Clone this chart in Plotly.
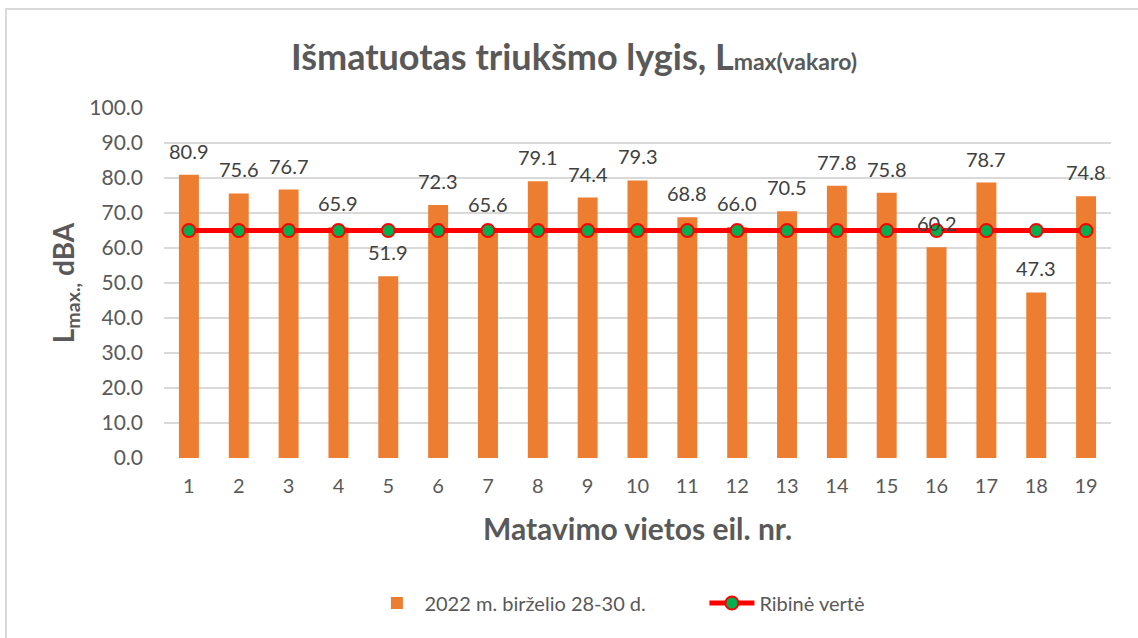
import plotly.graph_objects as go

categories = list(range(1, 20))
measured = [80.9, 75.6, 76.7, 65.9, 51.9, 72.3, 65.6, 79.1, 74.4, 79.3,
            68.8, 66.0, 70.5, 77.8, 75.8, 60.2, 78.7, 47.3, 74.8]
limit = [65.0] * 19
y_ticks = [0, 10, 20, 30, 40, 50, 60, 70, 80, 90, 100]
y_tick_labels = [f"{v:.1f}" for v in y_ticks]

bar_name = "2022 m. birželio 28-30 d."
line_name = "Ribinė vertė"
title_text = ("<b>Išmatuotas triukšmo lygis, L"
              "<span style='font-size:23px'>max(vakaro)</span></b>")

W, H = 1138, 638
L, R, T, B = 164, 27, 108, 180
pw, ph = W - L - R, H - T - B

FONT = "Lato, Carlito, Calibri, sans-serif"
GRAY = "#595959"

fig = go.Figure()
fig.add_trace(go.Bar(
    x=categories, y=measured, name=bar_name,
    marker=dict(color="#ED7D31", line=dict(width=0)),
))
fig.add_trace(go.Scatter(
    x=categories, y=limit, name=line_name, mode="lines+markers",
    line=dict(color="#FF0000", width=5),
    marker=dict(color="#00B050", size=13, line=dict(color="#FF0000", width=2)),
))

for c, v in zip(categories, measured):
    fig.add_annotation(x=c, y=v, text=f"{v:.1f}", showarrow=False,
                       yshift=24, font=dict(family=FONT, size=20, color="#404040"))

fig.add_shape(type="rect", xref="paper", yref="paper",
              x0=(6 - L) / pw, x1=(W + 4 - L) / pw,
              y0=(H - B - (H + 4)) / ph, y1=(H - B - 9) / ph,
              line=dict(color="#D9D9D9", width=2), fillcolor="rgba(0,0,0,0)",
              layer="below")

fig.update_layout(
    width=W, height=H,
    margin=dict(l=L, r=R, t=T, b=B, autoexpand=False),
    paper_bgcolor="white", plot_bgcolor="white",
    font=dict(family=FONT, color=GRAY),
    title=dict(text=title_text, x=574 / W, xanchor="center",
               y=1 - 57 / H, yanchor="middle",
               font=dict(family=FONT, size=36, color=GRAY)),
    bargap=0.6,
    showlegend=True,
    legend=dict(orientation="h", x=0.619, xanchor="center", xref="container",
                y=1 - 603 / H, yref="container", yanchor="middle",
                font=dict(family=FONT, size=20, color=GRAY),
                itemwidth=45, entrywidth=275, traceorder="normal"),
    xaxis=dict(
        range=[0.5, 19.5], tickvals=categories,
        ticktext=[str(c) for c in categories],
        showgrid=False, showline=False, zeroline=False,
        ticks="", ticklabelstandoff=14,
        tickfont=dict(family=FONT, size=20, color=GRAY),
        title=dict(text="<b>Matavimo vietos eil. nr.</b>", standoff=22,
                   font=dict(family=FONT, size=30, color=GRAY)),
    ),
    yaxis=dict(
        range=[0, 100], tickvals=y_ticks, ticktext=y_tick_labels,
        showgrid=True, gridcolor="#D9D9D9", gridwidth=2,
        zeroline=False, showline=False, ticks="", ticklabelstandoff=20,
        tickfont=dict(family=FONT, size=21, color=GRAY),
        title=dict(text="<b>L<sub>max.,</sub> dBA</b>", standoff=6,
                   font=dict(family=FONT, size=28, color=GRAY)),
    ),
)

fig.write_html("out.html", config={"displayModeBar": False},
               post_script="document.body.style.margin='0';")
